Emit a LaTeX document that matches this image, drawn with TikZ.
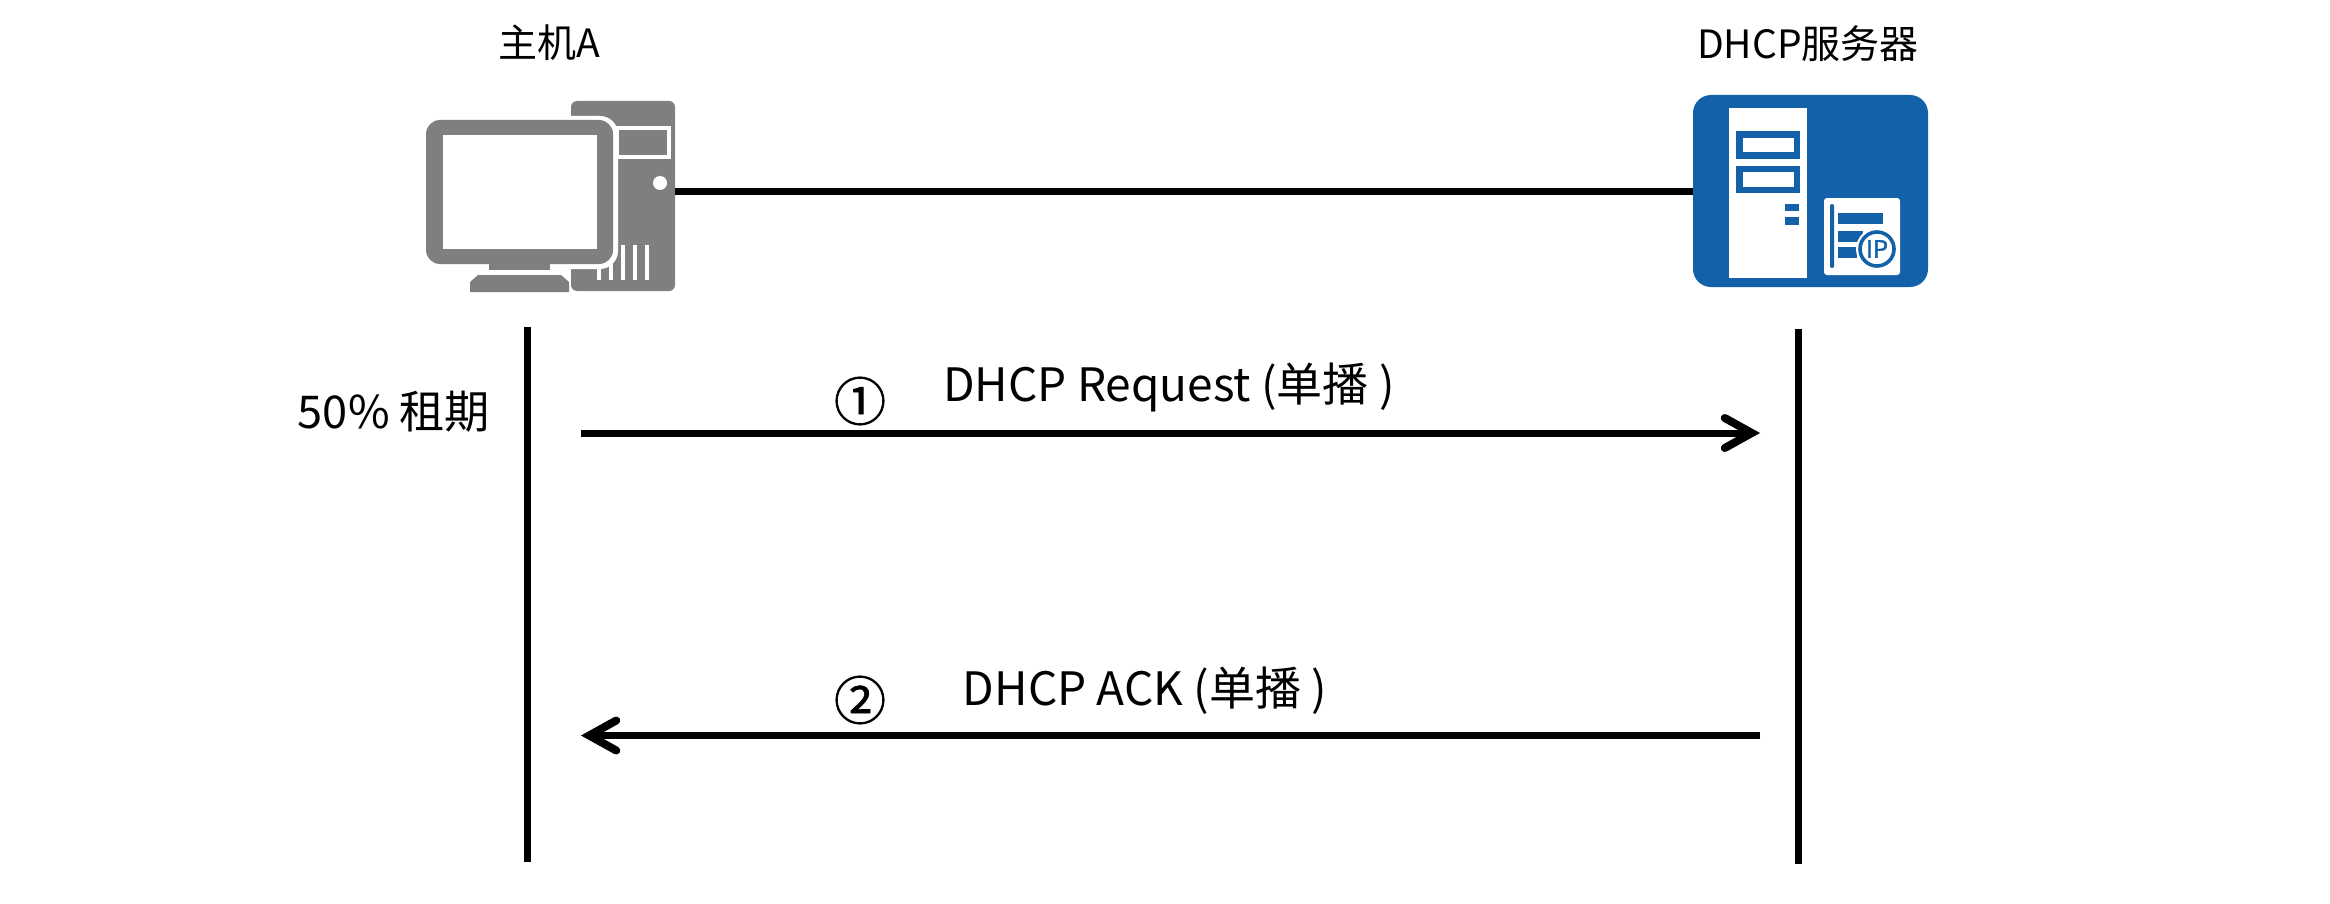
\documentclass[tikz,border=0pt]{standalone}
\usepackage{fontspec}
\setmainfont{Noto Sans CJK SC}
\newfontfamily\stepfont[FakeBold=1.2]{Noto Sans CJK SC}
\usetikzlibrary{arrows.meta}
\definecolor{hostgray}{HTML}{7F7F7F}
\definecolor{srvblue}{HTML}{1261A9}
\tikzset{
  wire/.style={line width=3.5pt,black},
  msg/.style={wire,-{Straight Barb[length=13.5pt,width=15pt,line width=4pt,line cap=round,line join=miter]}},
  label/.style={inner sep=0pt,font=\fontsize{23}{27}\selectfont,text=black},
  leaselabel/.style={inner sep=0pt,font=\fontsize{22.6}{27}\selectfont,text=black},
  caption/.style={inner sep=0pt,font=\fontsize{19.5}{24}\selectfont,text=black},
  stepmark/.style={inner sep=0pt,font=\stepfont\fontsize{26}{30}\selectfont,text=black},
  part/.style={fill=hostgray,draw=none},
  cut/.style={fill=white,draw=none},
  blue/.style={fill=srvblue,draw=none},
}
\begin{document}
\begin{tikzpicture}[x=.5pt,y=-.5pt]
\useasboundingbox (0,0) rectangle (2330,904);

% desktop computer: tower behind the monitor
\node[part,rounded corners=3pt,minimum width=52pt,minimum height=95pt,inner sep=0pt] (tower) at (623,196) {};
\draw[white,line width=2pt] (617,128) rectangle (669,157);
\fill[white] (660,183) circle (7);
\foreach \vx in {599,611,623,635,647}
  \fill[white] (\vx-2,245) rectangle (\vx+2,280);
\fill[cut,rounded corners=9pt] (422,116) rectangle (618,269);
\fill[white] (470,264) rectangle (571,295);
\fill[part,rounded corners=7pt] (426,120) rectangle (613,264);
\fill[cut] (443,135) rectangle (597,249);
\fill[part] (489,264) rectangle (550,270);
\fill[part] (470,292) -- (470,282) -- (478,275) -- (561,275) -- (569,282) -- (569,292) -- cycle;

% DHCP server icon
\node[blue,rounded corners=9pt,minimum width=117.5pt,minimum height=96pt,inner sep=0pt] (server) at (1810.5,191) {};
\fill[white] (1729,108) rectangle (1807,278);
\fill[srvblue] (1736,131) rectangle (1800,159);
\fill[white] (1743,138) rectangle (1794,152);
\fill[srvblue] (1736,166) rectangle (1800,193);
\fill[white] (1743,172) rectangle (1794,187);
\fill[srvblue] (1785,204) rectangle (1799,211);
\fill[srvblue] (1785,217) rectangle (1799,225);
\fill[white,rounded corners=1.5pt] (1824,198) rectangle (1900,275);
\fill[srvblue,rounded corners=1pt] (1830,204) rectangle (1834,268);
\fill[srvblue] (1838,213) rectangle (1883,224);
\fill[srvblue] (1838,231) rectangle (1863,242);
\fill[srvblue] (1838,247) rectangle (1857,258);
\fill[white] (1877,249) circle (21);
\draw[srvblue,line width=1.8pt] (1877,249) circle (17);
\node[inner sep=0pt,text=srvblue,font=\stepfont\fontsize{12}{13}\selectfont] (ip) at (1877,249) {IP};

% link between the two devices
\draw[wire] (tower.east |- server.west) -- (server.west);

% lifelines
\coordinate (hostTop) at (527,327);
\coordinate (hostEnd) at (527,862);
\coordinate (srvTop) at (1798,329);
\coordinate (srvEnd) at (1798,864);
\draw[wire] (hostTop) -- (hostEnd);
\draw[wire] (srvTop) -- (srvEnd);

% messages
\coordinate (reqFrom) at (581,433);
\coordinate (reqTo) at (1760,433);
\coordinate (ackFrom) at (1760,735.5);
\coordinate (ackTo) at (581,735.5);
\draw[msg] (reqFrom) -- (reqTo);
\draw[msg] (ackFrom) -- (ackTo);

% labels
\node[caption] (hostName) at (549.5,43) {主机A};
\node[caption] (srvName) at (1808,44) {DHCP服务器};
\node[leaselabel] (lease) at (394,412) {50\% 租期};
\node[stepmark] (stepOne) at (860,401) {①};
\node[label] (reqText) at (1169,387) {DHCP Request (单播 )};
\node[stepmark] (stepTwo) at (860,700) {②};
\node[label] (ackText) at (1145,691) {DHCP ACK (单播 )};
\end{tikzpicture}
\end{document}
